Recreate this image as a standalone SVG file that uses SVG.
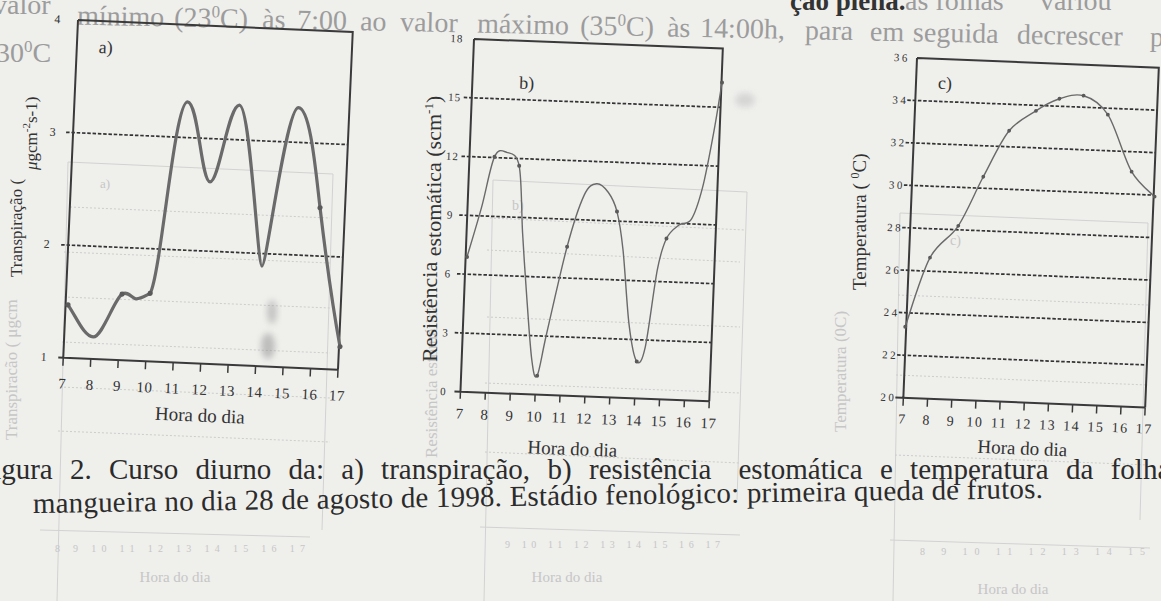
<svg xmlns="http://www.w3.org/2000/svg" width="1161" height="601" viewBox="0 0 1161 601">
<defs>
<style>
.frame{fill:none;stroke:#3a3a3a;stroke-width:2}
.grid{fill:none;stroke:#333;stroke-width:1.7;stroke-dasharray:3.5 1.8}
.tk{fill:none;stroke:#3a3a3a;stroke-width:1.5}
.tl{font-family:"Liberation Serif","Times New Roman",serif;font-size:15px;fill:#333;text-anchor:middle;letter-spacing:0.5px}
.yl{font-family:"Liberation Serif","Times New Roman",serif;font-size:11px;fill:#333;text-anchor:middle;letter-spacing:1px}
.lab{font-family:"Liberation Serif","Times New Roman",serif;fill:#333}
.cap{font-family:"Liberation Serif","Times New Roman",serif;font-size:29px;fill:#2b2b2b}
.page{font-family:"Liberation Serif","Times New Roman",serif;font-size:28px;fill:#9c9c9c}
.gl{fill:none;stroke:#d2d2d2;stroke-width:1}
.gd{fill:none;stroke:#cdcdcd;stroke-width:1;stroke-dasharray:2 2}
.gt{font-family:"Liberation Serif","Times New Roman",serif;fill:#c6c6c6}
.ca{fill:none;stroke:#6a6a6a;stroke-width:3.2;stroke-linejoin:round;stroke-linecap:round}
.cb{fill:none;stroke:#6a6a6a;stroke-width:1.4;stroke-linejoin:round}
.dot{fill:#5a5a5a}
</style>
<filter id="blur" x="-50%" y="-50%" width="200%" height="200%"><feGaussianBlur stdDeviation="3"/></filter>
</defs>
<rect width="1161" height="601" fill="#efefec"/>

<!-- faint show-through from the other side of the page -->
<g id="bleed">
<path class="gl" d="M68,162L333,174M333,174L322,530M68,162L57,601M493,180L747,192M747,192L737,500M493,180L484,601M900,213L1148,223M900,213L893,601M1148,223L1140,520"/>
<path class="gd" d="M70,207L330,218M64,252L330,263M64,297L330,308M62,342L330,353M60,387L330,398M58,431L330,442M490,218L745,230M487,250L740,262M487,317L740,327M485,383L740,393M485,452L740,463M898,295L1148,305M896,375L1148,385M895,455L1148,465"/>
<path class="gl" d="M40,530L310,537M480,527L740,535M890,540L1150,548"/>
<text class="gt" x="100" y="188" font-size="13">a)</text>
<text class="gt" x="512" y="210" font-size="14">b)</text>
<text class="gt" x="950" y="245" font-size="14">c)</text>
<text class="gt" x="175" y="582" font-size="15" text-anchor="middle">Hora do dia</text>
<text class="gt" x="567" y="582" font-size="15" text-anchor="middle">Hora do dia</text>
<text class="gt" x="1013" y="594" font-size="15" text-anchor="middle">Hora do dia</text>
<text class="gt" x="55" y="552" font-size="10" textLength="250">8 9 10 11 12 13 14 15 16 17</text>
<text class="gt" x="505" y="548" font-size="10" textLength="215">9 10 11 12 13 14 15 16 17</text>
<text class="gt" x="920" y="555" font-size="10" textLength="225">8 9 10 11 12 13 14 15</text>
<text class="gt" font-size="17" transform="translate(17,440) rotate(-90)">Transpiracão ( μgcm</text>
<text class="gt" font-size="17" transform="translate(437,458) rotate(-90)">Resistência estomática</text>
<text class="gt" font-size="17" transform="translate(846,432) rotate(-90)">Temperatura (0C)</text>
<ellipse cx="272" cy="312" rx="5" ry="12" fill="#9a9a9a" opacity="0.5" filter="url(#blur)"/>
<ellipse cx="268" cy="346" rx="7" ry="13" fill="#959595" opacity="0.55" filter="url(#blur)"/>
<ellipse cx="745" cy="100" rx="10" ry="7" fill="#cfcfcf" opacity="0.8" filter="url(#blur)"/>
</g>

<!-- page text above the figure -->
<g id="page-text">
<text class="page" x="-7" y="14">valor</text>
<g transform="rotate(1.15 100 25)">
<text class="page" x="77" y="25">mínimo</text>
<text class="page" x="174" y="25">(23<tspan font-size="17" dy="-10">0</tspan><tspan dy="10">C)</tspan></text>
<text class="page" x="262" y="25">às</text>
<text class="page" x="297" y="25">7:00</text>
<text class="page" x="360" y="25">ao</text>
<text class="page" x="400" y="25">valor</text>
<text class="page" x="477" y="25">máximo</text>
<text class="page" x="580" y="25">(35<tspan font-size="17" dy="-10">0</tspan><tspan dy="10">C)</tspan></text>
<text class="page" x="667" y="25">às</text>
<text class="page" x="700" y="25">14:00h,</text>
<text class="page" x="805" y="25">para</text>
<text class="page" x="870" y="25">em</text>
<text class="page" x="913" y="25">seguida</text>
<text class="page" x="1017" y="25">decrescer</text>
<text class="page" x="1150" y="25">pa</text>
</g>
<text class="page" x="-4" y="62">30<tspan font-size="17" dy="-10">0</tspan><tspan dy="10">C</tspan></text>
<text x="790" y="10" font-family="Liberation Serif, serif" font-size="27" font-weight="bold" fill="#333">ção plena.</text>
<text class="page" x="905" y="10">as folhas</text>
<text class="page" x="1040" y="10">variou</text>
</g>

<!-- a) transpiration -->
<g id="chart-a">
<g transform="translate(78,20) rotate(2.5)">
<line class="grid" x1="-7" y1="112.7" x2="275" y2="112.7"/>
<line class="grid" x1="-7" y1="225.3" x2="275" y2="225.3"/>
<path class="frame" d="M0,0H275V338M0,0V338M-5,338H275"/>
<path class="tk" d="M0,338v8M27.5,338v8M55,338v8M82.5,338v8M110,338v8M137.5,338v8M165,338v8M192.5,338v8M220,338v8M247.5,338v8M275,338v8"/>
<g class="tl">
<text x="0" y="369">7</text><text x="27.5" y="369">8</text><text x="55" y="369">9</text><text x="82.5" y="369">10</text><text x="110" y="369">11</text><text x="137.5" y="369">12</text><text x="165" y="369">13</text><text x="192.5" y="369">14</text><text x="220" y="369">15</text><text x="247.5" y="369">16</text><text x="275" y="369">17</text>
</g>
<g class="yl" style="font-size:12px">
<text x="-20" y="4">4</text><text x="-20" y="117">3</text><text x="-21" y="229">2</text><text x="-19" y="342">1</text>
</g>
<text class="lab" x="22" y="32" font-size="18">a)</text>
<text class="lab" x="139" y="396" font-size="19" text-anchor="middle">Hora do dia</text>
<path class="ca" d="M2.4,285C12,298 20,316 29,316C38,316 48,278 56,272C62,268 66,276 70,276C75,276 80,272 84,270C94,250 100,77 113,77C124,77 130,156 139,156C148,156 154,78 165,78C176,78 190,238 194.5,238C199,238 212,78 224,78C236,78 244,140 250,177C256,214 268,280 276,315"/>
<g class="dot"><circle cx="2.4" cy="285" r="2.6"/><circle cx="56" cy="272" r="2.6"/><circle cx="84" cy="270" r="2.6"/><circle cx="250" cy="177" r="2.6"/><circle cx="276" cy="315" r="2.6"/></g>
</g>
<text class="lab" font-size="17" transform="translate(22,277) rotate(-90)">Transpiração (</text>
<text class="lab" font-size="17" transform="translate(37,170) rotate(-90)"><tspan font-style="italic">μ</tspan>gcm<tspan font-size="11" dy="-7">-2</tspan><tspan dy="7">s-1)</tspan></text>
</g>

<!-- b) stomatal resistance -->
<g id="chart-b">
<g transform="translate(474,39) rotate(2.2)">
<path class="grid" d="M-8,58.8H249M-8,117.7H249M-8,176.5H249M-8,235.3H249M-8,294.2H249"/>
<path class="frame" d="M0,0H249V353M0,0V353M-6,353H249"/>
<path class="tk" d="M0,353v7M24.9,353v7M49.8,353v7M74.7,353v7M99.6,353v7M124.5,353v7M149.4,353v7M174.3,353v7M199.2,353v7M224.1,353v7M249,353v7"/>
<g class="tl">
<text x="0" y="380">7</text><text x="24.9" y="380">8</text><text x="49.8" y="380">9</text><text x="74.7" y="380">10</text><text x="99.6" y="380">11</text><text x="124.5" y="380">12</text><text x="149.4" y="380">13</text><text x="174.3" y="380">14</text><text x="199.2" y="380">15</text><text x="224.1" y="380">16</text><text x="249" y="380">17</text>
</g>
<g class="yl">
<text x="-17" y="4">18</text><text x="-17" y="62.8">15</text><text x="-17" y="121.7">12</text><text x="-17" y="180.5">9</text><text x="-17" y="239.3">6</text><text x="-17" y="298.2">3</text><text x="-17" y="357">0</text>
</g>
<text class="lab" x="47" y="48" font-size="18">b)</text>
<text class="lab" x="114" y="412" font-size="19" text-anchor="middle">Hora do dia</text>
<path class="cb" d="M1.4,218C3.5,209.7 10.1,184.8 14,168C17.9,151.2 21.2,126.3 25,117C28.8,107.7 32.8,110.7 37,112C41.2,113.3 46.8,111.7 50,125C53.2,138.3 54,171.2 56,192C58,212.8 59.7,229 62,250C64.3,271 67.7,304 70,318C72.3,332 73.7,338.5 76,334C78.3,329.5 79.8,312.7 84,291C88.2,269.3 95.7,227.2 101,204C106.3,180.8 111.5,162.7 116,152C120.5,141.3 124,140.7 128,140C132,139.3 136.4,143.5 140,148C143.6,152.5 146.7,157.5 149.5,167C152.3,176.5 154.25,186.2 157,205C159.75,223.8 163,261.5 166,280C169,298.5 172.2,312.5 175,316C177.8,319.5 180.2,316.3 183,301C185.8,285.7 189.2,242.2 192,224C194.8,205.8 196.7,199.7 200,192C203.3,184.3 208,181.3 212,178C216,174.7 220.3,178.3 224,172C227.7,165.7 230.8,154.5 234,140C237.2,125.5 240.4,102.7 243,85C245.6,67.3 248.4,42.5 249.5,34"/>
<g class="dot"><circle cx="1.4" cy="218" r="2"/><circle cx="25" cy="117" r="2"/><circle cx="50" cy="125" r="2"/><circle cx="76" cy="334" r="2"/><circle cx="101" cy="204" r="2"/><circle cx="149.5" cy="167" r="2"/><circle cx="175" cy="316" r="2"/><circle cx="200" cy="192" r="2"/><circle cx="249.5" cy="34" r="2"/></g>
</g>
<text class="lab" font-size="22" transform="translate(441,362) rotate(-90)"><tspan dy="-4">Resistência</tspan><tspan dy="4"> estomática (scm</tspan><tspan font-size="13" dy="-8">-1</tspan><tspan dy="8">)</tspan></text>
</g>

<!-- c) leaf temperature -->
<g id="chart-c">
<g transform="translate(917,58) rotate(2.3)">
<path class="grid" d="M-8,42.5H242M-8,85H242M-8,127.5H242M-8,170H242M-8,212.5H242M-8,255H242M-8,297.5H242"/>
<path class="frame" d="M0,0H242V340M0,0V340M-8,340H242"/>
<path class="tk" d="M0,340v8M24.2,340v8M48.4,340v8M72.6,340v8M96.8,340v8M121,340v8M145.2,340v8M169.4,340v8M193.6,340v8M217.8,340v8M242,340v8"/>
<g class="tl" style="font-size:14px;letter-spacing:1.5px">
<text x="0" y="366">7</text><text x="24.2" y="366">8</text><text x="48.4" y="366">9</text><text x="72.6" y="366">10</text><text x="96.8" y="366">11</text><text x="121" y="366">12</text><text x="145.2" y="366">13</text><text x="169.4" y="366">14</text><text x="193.6" y="366">15</text><text x="217.8" y="366">16</text><text x="242" y="366">17</text>
</g>
<g class="yl" style="letter-spacing:2.5px">
<text x="-15" y="4">36</text><text x="-15" y="46.5">34</text><text x="-15" y="89">32</text><text x="-15" y="131.5">30</text><text x="-15" y="174">28</text><text x="-15" y="216.5">26</text><text x="-15" y="259">24</text><text x="-15" y="301.5">22</text><text x="-15" y="344">20</text>
</g>
<text class="lab" x="22" y="30" font-size="18">c)</text>
<text class="lab" x="121" y="392" font-size="19" text-anchor="middle">Hora do dia</text>
<path class="cb" stroke-width="1.3" d="M-1,269C2.7,257 12.8,216 21,199C29.2,182 39.7,180 48,166C56.3,152 63.2,132 71,116C78.8,100 86.7,80 95,69C103.3,58 112.8,54 121,48C129.2,42 136.2,38 144,35C151.8,32 159.8,29 168,31C176.2,33 184.5,37 193,49C201.5,61 210.7,92 219,105C227.3,118 239,125 243,129"/>
<g class="dot"><circle cx="-1" cy="269" r="1.9"/><circle cx="21" cy="199" r="1.9"/><circle cx="48" cy="166" r="1.9"/><circle cx="71" cy="116" r="1.9"/><circle cx="95" cy="69" r="1.9"/><circle cx="121" cy="48" r="1.9"/><circle cx="144" cy="35" r="1.9"/><circle cx="168" cy="31" r="1.9"/><circle cx="193" cy="49" r="1.9"/><circle cx="219" cy="105" r="1.9"/><circle cx="243" cy="129" r="1.9"/></g>
</g>
<text class="lab" font-size="19" transform="translate(866,290) rotate(-90)">Temperatura ( <tspan font-size="12" dy="-7">0</tspan><tspan dy="7">C)</tspan></text>
</g>

<!-- figure caption -->
<g id="caption">
<text class="cap" y="479"><tspan x="-23">Figura</tspan><tspan x="70">2.</tspan><tspan x="109">Curso</tspan><tspan x="195.6">diurno</tspan><tspan x="288.6">da:</tspan><tspan x="341.3">a)</tspan><tspan x="381.1">transpiração,</tspan><tspan x="547.5">b)</tspan><tspan x="589">resistência</tspan><tspan x="738.5">estomática</tspan><tspan x="879.9">e</tspan><tspan x="910.1">temperatura</tspan><tspan x="1066">da</tspan><tspan x="1110.7">folha</tspan></text>
<text class="cap" x="33" y="513" textLength="1010" lengthAdjust="spacing" transform="rotate(-0.85 33 513)">mangueira no dia 28 de agosto de 1998. Estádio fenológico: primeira queda de frutos.</text>
</g>
</svg>
